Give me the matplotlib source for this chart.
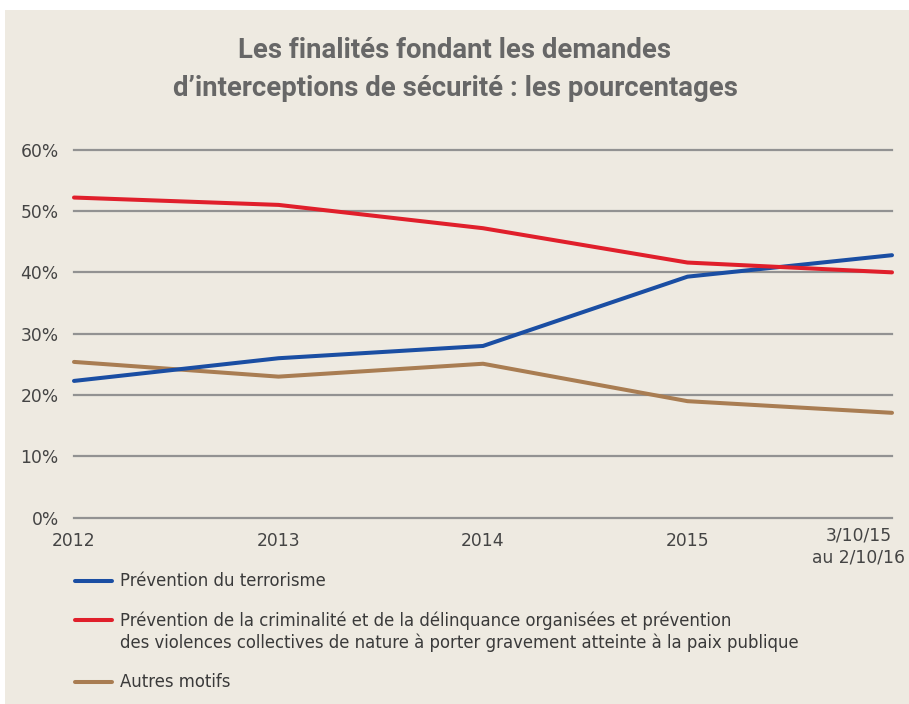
import matplotlib
matplotlib.use("Agg")
import matplotlib.pyplot as plt
from matplotlib.patches import Rectangle
from matplotlib.lines import Line2D

categories = ["2012", "2013", "2014", "2015", "3/10/15\nau 2/10/16"]
terrorisme = [22.3, 26.0, 28.0, 39.3, 42.8]
criminalite = [52.2, 51.0, 47.2, 41.6, 40.0]
autres = [25.4, 23.0, 25.1, 19.0, 17.1]
series_labels = [
    "Prévention du terrorisme",
    "Prévention de la criminalité et de la délinquance organisées et prévention\n"
    "des violences collectives de nature à porter gravement atteinte à la paix publique",
    "Autres motifs",
]
yticks = [0, 10, 20, 30, 40, 50, 60]

BG = "#EEEAE1"
BLUE = "#1A4EA3"
RED = "#E01F2B"
BROWN = "#A97D52"
GRID = "#929292"
TXT = "#444444"

W, H = 909, 704
fig = plt.figure(figsize=(W / 100, H / 100), dpi=100)
fig.patch.set_facecolor("white")
fig.patches.append(Rectangle((5 / W, 0), 1 - 5 / W, 1 - 10 / H, transform=fig.transFigure,
                             facecolor=BG, edgecolor="none", zorder=-10))

left, right = 74 / W, 892 / W
bottom = (H - 517.7) / H
top = (H - 149.7) / H
ax = fig.add_axes([left, bottom, right - left, top - bottom])
ax.set_zorder(1)
ax.set_facecolor("none")
ax.set_xlim(0, len(categories) - 1)
ax.set_ylim(0, 60)
for s in ax.spines.values():
    s.set_visible(False)

for v in yticks:
    ax.axhline(v, color=GRID, lw=1.6, zorder=1, clip_on=False)

x = list(range(len(categories)))
for vals, col in [(autres, BROWN), (terrorisme, BLUE), (criminalite, RED)]:
    ax.plot(x, vals, color=col, lw=2.9, solid_capstyle="round", solid_joinstyle="round",
            zorder=3, clip_on=False)

ax.set_yticks(yticks)
ax.set_yticklabels([f"{v}%" for v in yticks], fontsize=12.3, color=TXT)
ax.tick_params(axis="y", length=0, pad=11)

ax.set_xticks(x[:-1])
ax.set_xticklabels(categories[:-1], fontsize=12.3, color=TXT)
ax.tick_params(axis="x", length=0, pad=10)
ax.annotate(categories[-1], xy=(x[-1], 0), xycoords=("data", "axes fraction"),
            xytext=(-33, -9), textcoords="offset pixels", ha="center", va="top",
            fontsize=12.3, color=TXT, multialignment="center", linespacing=1.3,
            annotation_clip=False)

title_font = ["Roboto", "DejaVu Sans"]
fig.text(455 / W, 1 - 51 / H, "Les finalités fondant les demandes", ha="center", va="center",
         fontsize=19.8, fontweight="bold", color="#676767", family=title_font)
fig.text(455 / W, 1 - 88 / H, "d\u2019interceptions de sécurité : les pourcentages", ha="center",
         va="center", fontsize=19.8, fontweight="bold", color="#676767", family=title_font)

leg_y = [581, 620, 682]
for yy, col, lab in zip(leg_y, [BLUE, RED, BROWN], series_labels):
    fig.lines.append(Line2D([75 / W, 112 / W], [1 - yy / H, 1 - yy / H], transform=fig.transFigure,
                            color=col, lw=2.9, solid_capstyle="round"))
    fig.text(120 / W, 1 - (yy - 9) / H, lab, ha="left", va="top", fontsize=11.9, color="#3a3a3a",
             linespacing=1.3)

fig.savefig("out.png", dpi=100)
